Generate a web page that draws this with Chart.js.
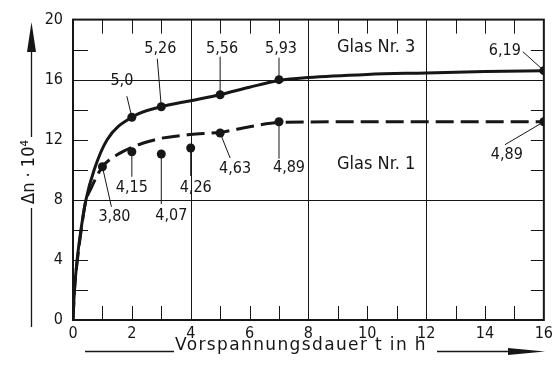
<!DOCTYPE html>
<html>
<head>
<meta charset="utf-8">
<script src="https://cdn.jsdelivr.net/npm/chart.js@4"></script>
<style>
  html, body { margin: 0; padding: 0; background: #fff; }
</style>
</head>
<body>
<canvas id="chart" width="557" height="377"></canvas>
<script>
// ---- data ----
const xTicks = [0, 2, 4, 6, 8, 10, 12, 14, 16];
const yTicks = [0, 4, 8, 12, 16, 20];

// Glas Nr. 3 (solid)
const glas3X = [2, 3, 5, 7, 16];
const glas3Y = [13.5, 14.2, 15.0, 16.0, 16.6];
const glas3Labels = ['5,0', '5,26', '5,56', '5,93', '6,19'];
const glas3CurveX = [0, 0.05, 0.14, 0.27, 0.44, 0.72, 1.16, 2, 3, 4, 5, 6, 7, 8, 10, 12, 14, 16];
const glas3CurveY = [0, 2, 4, 6, 8, 10, 12, 13.5, 14.2, 14.6, 15.0, 15.5, 15.95, 16.15, 16.35, 16.45, 16.55, 16.6];

// Glas Nr. 1 (dashed)
const glas1X = [1, 2, 3, 4, 5, 7, 16];
const glas1Y = [10.2, 11.2, 11.05, 11.45, 12.45, 13.2, 13.2];
const glas1Labels = ['3,80', '4,15', '4,07', '4,26', '4,63', '4,89', '4,89'];
const glas1CurveX = [0, 0.05, 0.15, 0.28, 0.42, 0.62, 1, 1.5, 2, 2.6, 3, 4, 5, 6, 7, 10, 13, 16];
const glas1CurveY = [0, 2, 4, 6, 7.8, 8.8, 10.2, 11.0, 11.5, 11.9, 12.1, 12.35, 12.5, 12.87, 13.15, 13.2, 13.2, 13.2];

const ink = '#161616';
const fontFam = "'DejaVu Sans Condensed', 'DejaVu Sans', sans-serif";

const zip = (xs, ys) => xs.map((x, i) => ({ x, y: ys[i] }));

// label placement: [labelDx, labelDy, leaderDx, leaderDy] relative to the point, in px
const offs3 = [[-10, -36, -5, -21], [-1, -58, -4, -48], [2, -46, 0, -38], [2, -31, 0, -22], [-39, -20, -21, -19]];
const offs1 = [[12, 50, 9, 40], [0, 36, 0, 25], [10, 62, 0, 50], [5, 40, 0, 28], [15, 36, 10, 25], [10, 46, 0, 37], [-37, 33, -39, 23]];

const framePlugin = {
    id: 'frame',
    beforeDatasetsDraw(chart) {
        const { ctx, chartArea: a, scales: { x, y } } = chart;
        ctx.save();
        ctx.strokeStyle = ink;
        // grid
        ctx.lineWidth = 1;
        ctx.beginPath();
        [4, 8, 12].forEach(v => { const px = Math.round(x.getPixelForValue(v)) + 0.5; ctx.moveTo(px, a.top); ctx.lineTo(px, a.bottom); });
        [8, 16].forEach(v => { const py = Math.round(y.getPixelForValue(v)) + 0.5; ctx.moveTo(a.left, py); ctx.lineTo(a.right, py); });
        // inward ticks
        for (let v = 1; v < 16; v++) {
            const px = Math.round(x.getPixelForValue(v)) + 0.5;
            ctx.moveTo(px, a.bottom); ctx.lineTo(px, a.bottom - 14);
            ctx.moveTo(px, a.top); ctx.lineTo(px, a.top + 14);
        }
        for (let v = 2; v < 20; v += 2) {
            const py = Math.round(y.getPixelForValue(v)) + 0.5;
            ctx.moveTo(a.left, py); ctx.lineTo(a.left + 15, py);
            ctx.moveTo(a.right, py); ctx.lineTo(a.right - 13, py);
        }
        ctx.stroke();
        // frame
        ctx.lineWidth = 2;
        ctx.strokeRect(a.left, a.top, a.right - a.left, a.bottom - a.top);

        // leader lines
        ctx.lineWidth = 1;
        ctx.beginPath();
        const leaders = (xs, ys, offs) => xs.forEach((v, i) => {
            const px = x.getPixelForValue(v), py = y.getPixelForValue(ys[i]);
            ctx.moveTo(px + offs[i][2], py + offs[i][3]);
            ctx.lineTo(px, py);
        });
        leaders(glas3X, glas3Y, offs3);
        leaders(glas1X, glas1Y, offs1);
        ctx.stroke();
        ctx.restore();
    },
    afterDraw(chart) {
        const { ctx, scales: { x, y } } = chart;
        ctx.save();
        ctx.fillStyle = ink;
        ctx.strokeStyle = ink;
        ctx.font = '16px ' + fontFam;
        ctx.textAlign = 'center';
        ctx.textBaseline = 'middle';
        const labels = (xs, ys, texts, offs) => xs.forEach((v, i) => {
            const px = x.getPixelForValue(v), py = y.getPixelForValue(ys[i]);
            ctx.fillText(texts[i], px + offs[i][0], py + offs[i][1]);
        });
        labels(glas3X, glas3Y, glas3Labels, offs3);
        labels(glas1X, glas1Y, glas1Labels, offs1);

        ctx.font = '18px ' + fontFam;
        ctx.fillText('Glas Nr. 3', x.getPixelForValue(10.3), y.getPixelForValue(18.15));
        ctx.fillText('Glas Nr. 1', x.getPixelForValue(10.3), y.getPixelForValue(10.35));

        // y axis title with arrow
        ctx.save();
        ctx.translate(29, 172);
        ctx.rotate(-Math.PI / 2);
        ctx.fillText('\u0394n \u00b7 10\u2074', 0, 0);
        ctx.restore();
        ctx.lineWidth = 1.3;
        ctx.beginPath();
        ctx.moveTo(31.5, 208); ctx.lineTo(31.5, 327);
        ctx.moveTo(31.5, 137); ctx.lineTo(31.5, 40);
        ctx.stroke();
        ctx.beginPath();
        ctx.moveTo(31.5, 22); ctx.lineTo(27, 52); ctx.lineTo(36, 52); ctx.closePath();
        ctx.fill();

        // x axis title with arrow
        const title = 'Vorspannungsdauer t in h';
        const tx = 301, ty = 346;
        ctx.font = "17px 'DejaVu Sans', sans-serif";
        const w0 = ctx.measureText(title).width;
        if ('letterSpacing' in ctx) ctx.letterSpacing = Math.max(0, (252 - w0) / title.length).toFixed(2) + 'px';
        ctx.fillText(title, tx, ty);
        ctx.letterSpacing = '0px';
        ctx.beginPath();
        ctx.moveTo(85, 351.5); ctx.lineTo(174, 351.5);
        ctx.moveTo(437, 351.5); ctx.lineTo(530, 351.5);
        ctx.stroke();
        ctx.beginPath();
        ctx.moveTo(545, 351.5); ctx.lineTo(508, 348); ctx.lineTo(508, 355); ctx.closePath();
        ctx.fill();
        ctx.restore();
    }
};

new Chart(document.getElementById('chart'), {
    type: 'scatter',
    data: {
        datasets: [
            { data: zip(glas3X, glas3Y), pointRadius: 4.5, pointBackgroundColor: ink, pointBorderWidth: 0, showLine: false },
            { data: zip(glas1X, glas1Y), pointRadius: 4.5, pointBackgroundColor: ink, pointBorderWidth: 0, showLine: false },
            { data: zip(glas3CurveX, glas3CurveY), showLine: true, borderColor: ink, borderWidth: 3,
              pointRadius: 0, cubicInterpolationMode: 'monotone' },
            { data: zip(glas1CurveX, glas1CurveY), showLine: true, borderColor: ink, borderWidth: 3,
              borderDash: [18, 7], pointRadius: 0, cubicInterpolationMode: 'monotone' }
        ]
    },
    options: {
        responsive: false,
        animation: false,
        devicePixelRatio: 1,
        layout: { padding: { left: 0, right: 8, top: 17, bottom: 0 } },
        plugins: { legend: { display: false }, tooltip: { enabled: false } },
        scales: {
            x: {
                type: 'linear', min: 0, max: 16,
                afterBuildTicks: s => { s.ticks = xTicks.map(v => ({ value: v })); },
                afterFit: s => { s.height = 57; },
                grid: { display: false, drawTicks: false },
                border: { display: false },
                ticks: { color: ink, font: { family: fontFam, size: 16 }, padding: 4 }
            },
            y: {
                type: 'linear', min: 0, max: 20,
                afterBuildTicks: s => { s.ticks = yTicks.map(v => ({ value: v })); },
                afterFit: s => { s.width = 73; },
                grid: { display: false, drawTicks: false },
                border: { display: false },
                ticks: { color: ink, font: { family: fontFam, size: 16 }, padding: 10 }
            }
        }
    },
    plugins: [framePlugin]
});
</script>
</body>
</html>
